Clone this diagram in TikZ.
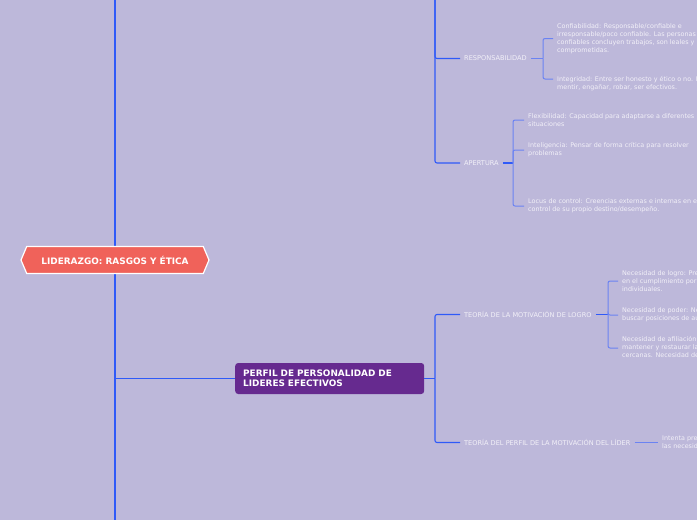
\documentclass[tikz,border=0pt]{standalone}
\usepackage{fontspec}
\setmainfont{DejaVu Sans}
\usetikzlibrary{shapes.symbols}
\definecolor{bgcol}{HTML}{BDB8DA}
\definecolor{mainblue}{HTML}{2F5AF8}
\definecolor{leafblue}{HTML}{6B83F2}
\definecolor{rootred}{HTML}{F0625A}
\definecolor{perfpurple}{HTML}{662A8F}
\definecolor{txtcol}{HTML}{F2F0F8}
\tikzset{
  trunk/.style={draw=mainblue, line width=1.5pt},
  branch/.style={draw=mainblue, line width=1.1pt, rounded corners=2pt},
  leafline/.style={draw=leafblue, line width=1pt, rounded corners=2pt},
  rootbox/.style={signal, signal to=east and west, signal pointer angle=134,
    fill=rootred, draw=white, line width=1.2pt, minimum width=188pt, minimum height=27pt,
    text=white, font=\bfseries\fontsize{8.9}{10}\selectfont, inner xsep=1pt},
  perfbox/.style={rectangle, rounded corners=3pt, fill=perfpurple, text=white,
    font=\bfseries\fontsize{8.9}{10}\selectfont, align=left, text width=173pt,
    inner xsep=8pt, minimum height=31pt, anchor=west},
  sublabel/.style={text=txtcol, font=\fontsize{6.6}{8}\selectfont, anchor=west, inner xsep=4pt, inner ysep=1pt},
  leaf/.style={text=txtcol, font=\fontsize{6.4}{8}\selectfont, align=left, anchor=west, inner xsep=4pt, inner ysep=0pt}
}
\begin{document}
\begin{tikzpicture}[x=1pt,y=-1pt]
\useasboundingbox (0,0) rectangle (697,520);
\clip (0,0) rectangle (697,520);
\fill[bgcol] (0,0) rectangle (697,520);

% trunk coordinates
\coordinate (topT) at (115,-2);
\coordinate (botT) at (115,522);
\coordinate (topB) at (435,-2);

\draw[trunk] (topT) -- (botT);

% root node
\node[rootbox] (root) at (115,260) {LIDERAZGO: RASGOS Y ÉTICA};

% purple node
\node[perfbox] (perf) at (235,378.5) {PERFIL DE PERSONALIDAD DE\\LIDERES EFECTIVOS};
\draw[trunk] (perf.west -| root) -- (perf.west);

% upper branch
\node[sublabel] (resp) at (460,58.5) {RESPONSABILIDAD};
\node[sublabel] (aper) at (460,163) {APERTURA};
\draw[branch] (topB) |- (resp.west);
\draw[branch] (topB) |- (aper.west);

\coordinate (respB) at (543,58.5);
\node[leaf] (conf) at (553,38.5) {Confiabilidad: Responsable/confiable e\\irresponsable/poco confiable. Las personas\\confiables concluyen trabajos, son leales y\\comprometidas.};
\node[leaf] (integ) at (553,84) {Integridad: Entre ser honesto y ético o no. No\\mentir, engañar, robar, ser efectivos.};
\draw[leafline] (resp.east) -- (respB);
\draw[leafline] (respB) |- (conf.west);
\draw[leafline] (respB) |- ([yshift=5pt]integ.west);

\coordinate (aperB) at (513,163);
\node[leaf] (flex) at (524,120) {Flexibilidad: Capacidad para adaptarse a diferentes\\situaciones};
\node[leaf] (intel) at (524,150) {Inteligencia: Pensar de forma crítica para resolver\\problemas};
\node[leaf] (locus) at (524,206) {Locus de control: Creencias externas e internas en el\\control de su propio destino/desempeño.};
\draw[branch] (aper.east) -- (aperB);
\draw[leafline] (aperB) |- (flex.west);
\draw[leafline] (aperB) |- (intel.west);
\draw[leafline] (aperB) |- (locus.west);

% lower branch
\coordinate (perfB) at (435,378.5);
\node[sublabel] (teo1) at (460,314.5) {TEORÍA DE LA MOTIVACIÓN DE LOGRO};
\node[sublabel] (teo2) at (460,442.5) {TEORÍA DEL PERFIL DE LA MOTIVACIÓN DEL LÍDER};
\draw[branch] (perf.east) -- (perfB);
\draw[branch] (perfB) |- (teo1.west);
\draw[branch] (perfB) |- (teo2.west);

\coordinate (teo1B) at (608,314.5);
\node[leaf] (logro) at (618,281) {Necesidad de logro: Preocupación por la excelencia\\en el cumplimiento por medio de esfuerzos\\individuales.};
\node[leaf] (poder) at (618,315) {Necesidad de poder: Necesidad de influir en otros y\\buscar posiciones de autoridad.};
\node[leaf] (afil) at (618,348) {Necesidad de afiliación: Interés por desarrollar,\\mantener y restaurar las relaciones personales\\cercanas. Necesidad de pertenencia.};
\draw[branch] (teo1.east) -- (teo1B);
\draw[leafline] (teo1B) |- (logro.west);
\draw[leafline] (teo1B) |- (poder.west);
\draw[leafline] (teo1B) |- (afil.west);

\node[leaf] (intenta) at (658,442.5) {Intenta predecir el éxito de los líderes con base en\\las necesidades de logro, poder y afiliación.};
\draw[leafline] (teo2.east) -- (intenta.west);
\end{tikzpicture}
\end{document}
